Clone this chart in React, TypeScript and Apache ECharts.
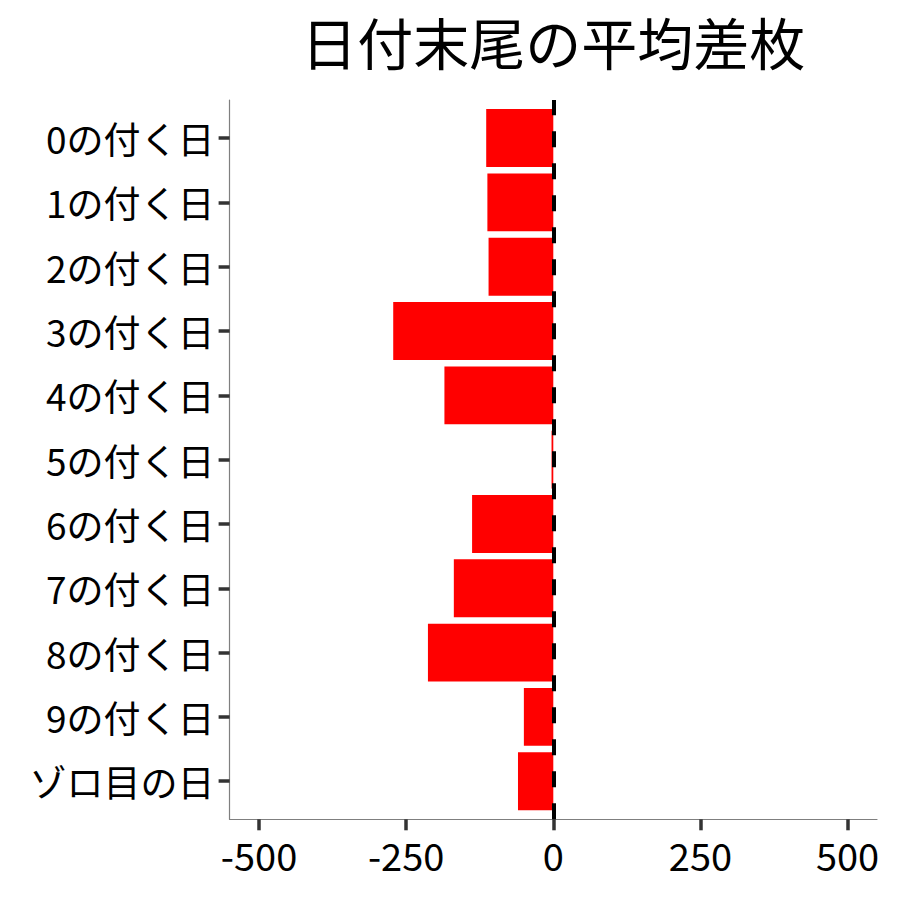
import React, { useEffect, useRef } from "react";
import * as echarts from "echarts";

const TITLE = "日付末尾の平均差枚";
const categories = [
  "0の付く日",
  "1の付く日",
  "2の付く日",
  "3の付く日",
  "4の付く日",
  "5の付く日",
  "6の付く日",
  "7の付く日",
  "8の付く日",
  "9の付く日",
  "ゾロ目の日",
];
const values = [-114, -112, -110, -272, -185, -3, -138, -169, -213, -50, -60];
const xTicks = [-500, -250, 0, 250, 500];
const X_MIN = -550;
const X_MAX = 550;

const FONT = '"Noto Sans CJK JP", "Noto Sans", sans-serif';

export default function App() {
  const ref = useRef<HTMLDivElement>(null);
  useEffect(() => {
    if (!ref.current) return;
    const chart = echarts.init(ref.current, undefined, { renderer: "svg" });
    const LEFT = 229.6;
    const RIGHT = 23;
    const TOP = 100;
    const BOTTOM = 80.7;
    const plotH = 900 - TOP - BOTTOM;
    const unit = plotH / (categories.length + 1.2);
    const pad = unit * 0.1;
    chart.setOption({
      animation: false,
      backgroundColor: "#ffffff",
      textStyle: { fontFamily: FONT },
      graphic: [
        {
          type: "text",
          x: LEFT + (900 - LEFT - RIGHT) / 2,
          y: 40,
          style: {
            text: TITLE,
            fontFamily: FONT,
            fontSize: 56,
            fill: "#000000",
            textAlign: "center",
            textVerticalAlign: "middle",
          },
        },
      ],
      grid: [
        { left: LEFT, right: RIGHT, top: TOP, bottom: BOTTOM, containLabel: false },
        { left: LEFT, right: RIGHT, top: TOP + pad, bottom: BOTTOM + pad, containLabel: false },
      ],
      xAxis: [
        {
          gridIndex: 0,
          type: "value",
          min: X_MIN,
          max: X_MAX,
          splitLine: { show: false },
          axisLine: { show: true, onZero: false, lineStyle: { color: "#7f7f7f", width: 1.2 } },
          axisTick: {
            show: true,
            customValues: xTicks,
            length: 11,
            lineStyle: { color: "#333333", width: 3.5 },
          },
          axisLabel: {
            show: true,
            customValues: xTicks,
            margin: 16,
            color: "#000000",
            fontSize: 38,
            fontFamily: FONT,
          },
        },
        {
          gridIndex: 1,
          type: "value",
          min: X_MIN,
          max: X_MAX,
          show: false,
          axisLine: { show: false, onZero: false },
          splitLine: { show: false },
        },
      ],
      yAxis: [
        {
          gridIndex: 0,
          type: "value",
          min: 0,
          max: 1,
          splitLine: { show: false },
          axisLine: { show: true, onZero: false, lineStyle: { color: "#7f7f7f", width: 1.2 } },
          axisTick: { show: false },
          axisLabel: { show: false },
        },
        {
          gridIndex: 1,
          type: "category",
          data: categories,
          inverse: true,
          splitLine: { show: false },
          axisLine: { show: false, onZero: false },
          axisTick: {
            show: true,
            alignWithLabel: true,
            length: 11,
            lineStyle: { color: "#333333", width: 3.5 },
          },
          axisLabel: {
            show: true,
            margin: 15,
            color: "#000000",
            fontSize: 37,
            fontFamily: FONT,
          },
        },
      ],
      series: [
        {
          type: "bar",
          xAxisIndex: 1,
          yAxisIndex: 1,
          data: values,
          barWidth: "90%",
          itemStyle: { color: "#ff0000" },
          silent: true,
        },
        {
          type: "line",
          xAxisIndex: 0,
          yAxisIndex: 0,
          data: [],
          silent: true,
          markLine: {
            silent: true,
            symbol: ["none", "none"],
            label: { show: false },
            lineStyle: { color: "#000000", width: 4, type: [16, 16] },
            data: [{ xAxis: 0 }],
          },
        },
      ],
    });
    return () => chart.dispose();
  }, []);
  return (
    <div
      ref={ref}
      style={{ position: "absolute", left: 0, top: 0, width: 900, height: 900 }}
    />
  );
}
